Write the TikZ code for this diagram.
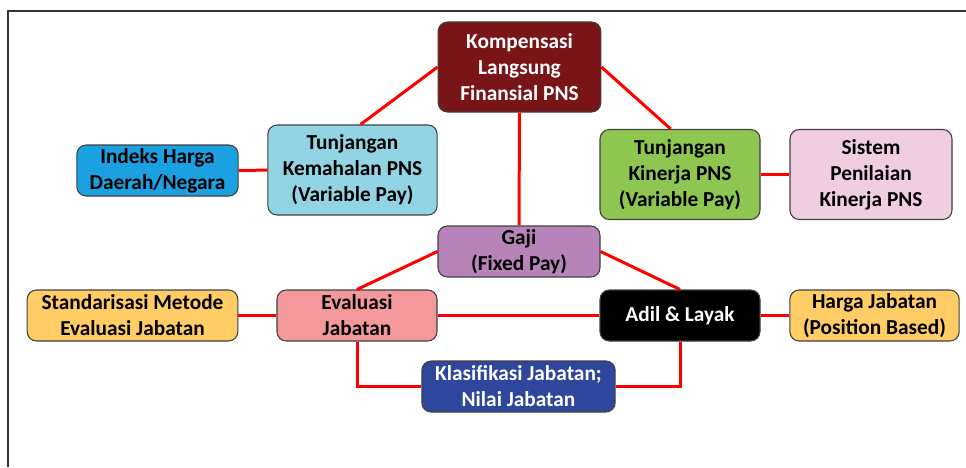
\documentclass[tikz,border=0pt]{standalone}
\usepackage{fontspec}
\setmainfont{Carlito}
\usetikzlibrary{shapes.geometric, arrows}
\definecolor{kompred}{HTML}{7A1517}
\definecolor{kemahblue}{HTML}{92D4E4}
\definecolor{indeksblue}{HTML}{1BA1E2}
\definecolor{kinerjagreen}{HTML}{8DC651}
\definecolor{sistempink}{HTML}{F0CDE1}
\definecolor{gajipurple}{HTML}{B783B9}
\definecolor{evalpink}{HTML}{F4999B}
\definecolor{hargaorange}{HTML}{FFCC66}
\definecolor{klasblue}{HTML}{2E479C}
\definecolor{boxline}{HTML}{404040}
\tikzstyle{box} = [rectangle, rounded corners=7pt, draw=boxline, line width=0.8pt, align=center, inner sep=0pt, font=\fontsize{16pt}{19.5pt}\selectfont\bfseries]
\tikzstyle{tall} = [box, minimum height=67.5pt]
\tikzstyle{short} = [box, minimum height=38.25pt]
\tikzstyle{link} = [red, line width=2.25pt]

\begin{document}
\begin{tikzpicture}[x=0.75pt, y=-0.75pt]
    \useasboundingbox (0,0) rectangle (966,467);
    \draw [line width=1.5pt, black!80] (7.5,467) -- (7.5,11) -- (966,11);

    \node [tall, fill=kompred, text=white, minimum width=122pt] at (519.5,67) (komp) {Kompensasi\\Langsung\\Finansial PNS};
    \node [tall, fill=kemahblue, minimum width=127pt] at (352.5,170) (kemah) {Tunjangan\\Kemahalan PNS\\(Variable Pay)};
    \node [short, fill=indeksblue, minimum width=121pt] at (157.5,170.5) (indeks) {Indeks Harga\\Daerah/Negara};
    \node [tall, fill=kinerjagreen, minimum width=120pt] at (680,174.5) (kinerja) {Tunjangan\\Kinerja PNS\\(Variable Pay)};
    \node [tall, fill=sistempink, minimum width=121.5pt] at (871,174.5) (sistem) {Sistem\\Penilaian\\Kinerja PNS};
    \node [short, fill=gajipurple, minimum width=121.5pt] at (519,251.5) (gaji) {Gaji\\(Fixed Pay)};
    \node [short, fill=evalpink, minimum width=120pt] at (357,315.5) (eval) {Evaluasi\\Jabatan};
    \node [short, fill=hargaorange, minimum width=158pt] at (132.5,315.5) (standar) {Standarisasi Metode\\Evaluasi Jabatan};
    \node [short, fill=black, text=white, minimum width=120pt] at (680,315.5) (adil) {Adil \& Layak};
    \node [short, fill=hargaorange, minimum width=127pt] at (874.5,315.5) (harga) {Harga Jabatan\\(Position Based)};
    \node [short, fill=klasblue, text=white, minimum width=145pt] at (518.5,386.5) (klas) {Klasifikasi Jabatan;\\Nilai Jabatan};

    % links
    \draw [link] (komp.west) -- ([xshift=6pt]kemah.north);
    \draw [link] (komp.east) -- ([xshift=-7pt]kinerja.north);
    \draw [link] (komp.south) -- (gaji.north);
    \draw [link] (indeks) -- (kemah);
    \draw [link] (kinerja) -- (sistem);
    \draw [link] (gaji.west) -- (eval.north);
    \draw [link] (gaji.east) -- (adil.north);
    \draw [link] (standar) -- (eval);
    \draw [link] (eval) -- (adil);
    \draw [link] (adil) -- (harga);
    \draw [link] (eval.south) |- (klas.west);
    \draw [link] (adil.south) |- (klas.east);
\end{tikzpicture}
\end{document}
